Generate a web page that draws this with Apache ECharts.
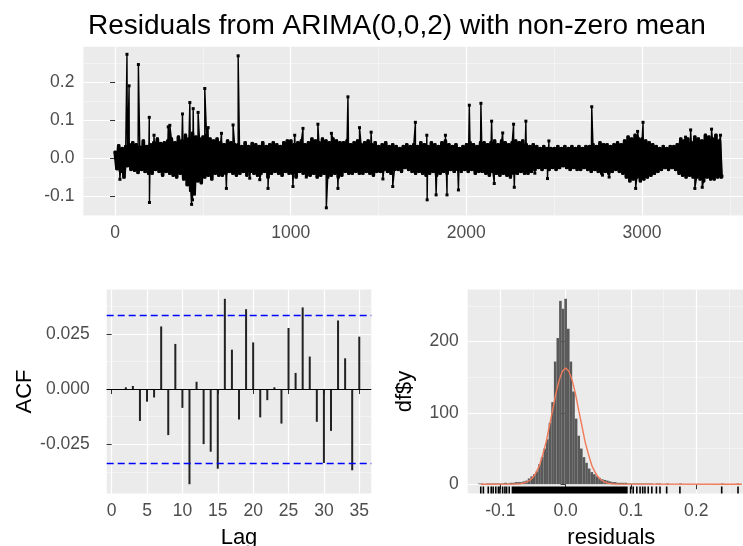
<!DOCTYPE html>
<html>
<head>
<meta charset="utf-8">
<title>checkresiduals</title>
<script src="https://cdn.jsdelivr.net/npm/echarts@6.0.0/dist/echarts.min.js"></script>
<style>
  html, body { margin: 0; padding: 0; background: #fff; }
  #main { width: 743px; height: 546px; }
</style>
</head>
<body>
<div id="main"></div>
<script>
// residual series: the dense band, sampled every 10 observations
var bandStart = 1;
var bandStep = 10;
var bandVals = [
  0.015, -0.028, 0.032, -0.035, 0.025, -0.05, 0.03, -0.02, 0.035, -0.03,
  0.04, -0.032, 0.035, -0.038, 0.028, -0.03, 0.045, -0.035, 0.03, -0.04,
  0.035, -0.04, 0.04, -0.03, 0.05, -0.035, 0.038, -0.045, 0.04, -0.035,
  0.045, -0.04, 0.05, -0.045, 0.04, -0.05, 0.055, -0.04, 0.045, -0.055,
  0.06, -0.07, 0.05, -0.085, 0.065, -0.09, 0.055, -0.06, 0.05, -0.065,
  0.055, -0.05, 0.06, -0.045, 0.05, -0.055, 0.045, -0.04, 0.05, -0.045,
  0.04, -0.045, 0.035, -0.04, 0.045, -0.035, 0.04, -0.04, 0.035, -0.045,
  0.035, -0.04, 0.03, -0.035, 0.04, -0.045, 0.03, -0.035, 0.038, -0.04,
  0.035, -0.045, 0.03, -0.04, 0.04, -0.035, 0.03, -0.05, 0.035, -0.04,
  0.04, -0.035, 0.035, -0.04, 0.03, -0.045, 0.04, -0.035, 0.045, -0.04,
  0.045, -0.04, 0.035, -0.05, 0.04, -0.035, 0.045, -0.04, 0.035, -0.045,
  0.04, -0.045, 0.05, -0.04, 0.045, -0.05, 0.04, -0.045, 0.05, -0.04,
  0.045, -0.05, 0.04, -0.045, 0.05, -0.04, 0.045, -0.05, 0.04, -0.045,
  0.04, -0.035, 0.045, -0.04, 0.035, -0.04, 0.04, -0.035, 0.045, -0.04,
  0.035, -0.04, 0.04, -0.035, 0.045, -0.04, 0.035, -0.045, 0.04, -0.035,
  0.03, -0.035, 0.035, -0.03, 0.04, -0.035, 0.03, -0.04, 0.035, -0.03,
  0.03, -0.03, 0.025, -0.035, 0.03, -0.025, 0.035, -0.03, 0.03, -0.035,
  0.035, -0.04, 0.03, -0.035, 0.04, -0.04, 0.035, -0.045, 0.03, -0.04,
  0.04, -0.035, 0.035, -0.045, 0.03, -0.04, 0.04, -0.035, 0.045, -0.04,
  0.035, -0.03, 0.03, -0.035, 0.035, -0.03, 0.025, -0.035, 0.03, -0.03,
  0.035, -0.035, 0.04, -0.03, 0.035, -0.04, 0.03, -0.035, 0.04, -0.035,
  0.04, -0.04, 0.035, -0.045, 0.04, -0.035, 0.045, -0.04, 0.035, -0.045,
  0.045, -0.04, 0.04, -0.045, 0.035, -0.05, 0.04, -0.04, 0.045, -0.04,
  0.04, -0.035, 0.045, -0.04, 0.035, -0.04, 0.03, -0.035, 0.035, -0.03,
  0.03, -0.025, 0.025, -0.03, 0.03, -0.025, 0.025, -0.03, 0.025, -0.025,
  0.025, -0.03, 0.03, -0.025, 0.025, -0.02, 0.03, -0.025, 0.025, -0.03,
  0.03, -0.025, 0.025, -0.03, 0.03, -0.03, 0.025, -0.025, 0.03, -0.03,
  0.03, -0.035, 0.035, -0.03, 0.03, -0.035, 0.04, -0.04, 0.035, -0.035,
  0.035, -0.04, 0.03, -0.035, 0.035, -0.03, 0.04, -0.035, 0.035, -0.04,
  0.045, -0.05, 0.055, -0.06, 0.05, -0.055, 0.06, -0.05, 0.05, -0.06,
  0.05, -0.055, 0.045, -0.05, 0.04, -0.045, 0.035, -0.04, 0.03, -0.035,
  0.025, -0.03, 0.03, -0.025, 0.025, -0.03, 0.03, -0.025, 0.03, -0.03,
  0.035, -0.04, 0.05, -0.045, 0.045, -0.05, 0.05, -0.045, 0.04, -0.05,
  0.055, -0.05, 0.05, -0.055, 0.045, -0.06, 0.06, -0.05, 0.055, -0.055,
  0.05, -0.055, 0.06, -0.05, 0.045, -0.05
];
// the single large residuals, [observation, value]
var spikes = [
  [28, -0.056], [68, 0.273], [80, 0.19], [133, 0.246], [195, 0.107], [196, -0.117],
  [222, 0.06], [303, 0.082], [312, 0.086], [384, 0.116], [426, 0.146], [436, -0.122],
  [441, -0.11], [445, 0.13], [452, -0.095], [473, 0.12], [511, 0.183], [530, 0.08],
  [606, 0.065], [634, -0.08], [672, 0.087], [701, 0.269], [767, -0.053], [824, -0.057],
  [871, -0.08], [1013, -0.075], [1023, 0.06], [1070, 0.078], [1089, -0.05], [1155, 0.089],
  [1203, -0.131], [1232, 0.065], [1269, -0.08], [1326, 0.161], [1392, 0.08], [1458, 0.068],
  [1525, -0.055], [1581, -0.075], [1710, 0.094], [1775, 0.06], [1777, -0.11], [1828, -0.097],
  [1881, 0.06], [1890, -0.097], [1955, -0.084], [2017, 0.139], [2083, 0.144], [2144, 0.097],
  [2159, -0.067], [2207, 0.066], [2269, 0.089], [2273, -0.077], [2339, 0.097], [2390, -0.04],
  [2462, -0.054], [2470, 0.045], [2714, 0.135], [2775, -0.045], [2813, -0.05], [2964, -0.08],
  [2975, 0.07], [3006, 0.094], [3248, 0.055], [3277, 0.074], [3301, -0.08], [3343, -0.077],
  [3396, 0.076], [3447, 0.06], [3455, -0.048]
];

// ACF of the residuals
var acfLags = [1, 2, 3, 4, 5, 6, 7, 8, 9, 10, 11, 12, 13, 14, 15, 16, 17, 18, 19, 20,
  21, 22, 23, 24, 25, 26, 27, 28, 29, 30, 31, 32, 33, 34, 35];
var acfVals = [-0.0003, 0.0008, 0.0014, -0.0144, -0.0057, -0.0038, 0.0283, -0.0208, 0.0204, -0.0085,
  -0.043, 0.0033, -0.0249, -0.0283, -0.036, 0.0408, 0.0178, -0.0137, 0.0361, 0.0211,
  -0.0128, -0.005, 0.0008, -0.0156, 0.0276, 0.0073, 0.0369, 0.0147, -0.0148, -0.0334,
  -0.0189, 0.031, 0.0139, -0.0367, 0.0237];
var acfLimit = 0.0334;

// histogram of residuals
var binStart = -0.134;
var binWidth = 0.004;
var binCounts = [
  1, 1, 0, 1, 1, 1, 1, 1, 1, 1,
  2, 1, 2, 2, 3, 3, 3, 4, 5, 8,
  11, 14, 18, 28, 38, 50, 63, 86, 115, 172,
  205, 257, 246, 260, 218, 172, 130, 92, 68, 50,
  38, 30, 22, 17, 14, 11, 9, 7, 6, 5,
  4, 3, 3, 2, 2, 2, 2, 1, 1, 1,
  1, 1, 1, 1, 1, 1, 1, 0, 1, 1,
  0, 0, 1, 0, 0, 0, 0, 1, 0, 0,
  0, 0, 0, 0, 0, 0, 0, 0, 0, 0,
  0, 0, 0, 1, 0, 0, 0, 0, 0, 1,
  0, 0
];
// fitted normal curve
var curveX = [-0.13, -0.08, -0.07, -0.065, -0.06, -0.055, -0.05, -0.045, -0.04, -0.035, -0.03,
  -0.025, -0.02, -0.015, -0.01, -0.005, 0, 0.005, 0.01, 0.015, 0.02, 0.025, 0.03, 0.035,
  0.04, 0.045, 0.05, 0.055, 0.06, 0.065, 0.07, 0.08, 0.27];
var curveY = [0, 0.1, 0.6, 1.5, 2.8, 5.6, 9.6, 17, 26.5, 41.7, 58.7,
  81.3, 103.6, 127, 145.6, 158.5, 163, 158.5, 145.6, 127, 103.6, 81.3, 58.7, 41.7,
  26.5, 17, 9.6, 5.6, 2.8, 1.5, 0.6, 0.1, 0];
// rug
var rugSparse = [-0.13, -0.126, -0.1185, -0.114, -0.111, -0.107, -0.103, -0.1006, -0.0965,
  -0.093, -0.0904, -0.0864, 0.0995, 0.1035, 0.109, 0.114, 0.118, 0.1215, 0.1265, 0.132,
  0.139, 0.1445, 0.1547, 0.175, 0.239, 0.264];
var rugDense = [-0.0827, 0.095];

// tick labels
var tsXTicks = [0, 1000, 2000, 3000];
var tsYTicks = [-0.1, 0, 0.1, 0.2];
var acfXTicks = [0, 5, 10, 15, 20, 25, 30, 35];
var acfYTicks = [-0.025, 0, 0.025];
var histXTicks = [-0.1, 0, 0.1, 0.2];
var histYTicks = [0, 100, 200];

var font = '"Liberation Sans", Arial, Helvetica, sans-serif';
var histYMin = -13;

function ggAxis(gridIndex, min, max, step, ticks, digits, minor, extra) {
    var ax = {
        type: 'value',
        gridIndex: gridIndex,
        min: min,
        max: max,
        minInterval: step,
        maxInterval: step,
        axisLine: { show: false },
        axisTick: { show: true, length: 5, customValues: ticks, lineStyle: { color: '#333333', width: 1 } },
        axisLabel: {
            customValues: ticks, color: '#4D4D4D', fontSize: 17.5, fontFamily: font, margin: 9,
            formatter: function (v) { return digits == null ? String(v) : Number(v).toFixed(digits); }
        },
        splitLine: { show: true, lineStyle: { color: '#FFFFFF', width: 1.2 } },
        minorTick: { show: false, splitNumber: 2 },
        minorSplitLine: { show: minor, lineStyle: { color: '#F7F7F7', width: 0.7 } }
    };
    for (var k in extra) ax[k] = extra[k];
    return ax;
}

var nameStyle = { color: '#000000', fontSize: 22, fontFamily: font };

var band = bandVals.map(function (v, i) { return [bandStart + i * bandStep, v]; });
var resid = band.concat(spikes).sort(function (a, b) { return a[0] - b[0]; });

var acfData = acfLags.map(function (l, i) { return [l, acfVals[i]]; });
var histData = binCounts.map(function (c, k) {
    return [binStart + k * binWidth, binStart + (k + 1) * binWidth, c];
});
var curveData = curveX.map(function (x, i) { return [x, curveY[i]]; });

var myChart = echarts.init(document.getElementById('main'), null, { renderer: 'canvas' });

var gridBase = { show: true, backgroundColor: '#EBEBEB', borderWidth: 0, containLabel: false, outerBoundsMode: 'none' };

var acfYAxis = ggAxis(1, -0.0472, 0.045, 0.025, acfYTicks, 3, true,
    { name: 'ACF', nameLocation: 'middle', nameGap: 71, nameTextStyle: nameStyle });
acfYAxis.axisLabel.margin = 17;

var option = {
    animation: false,
    backgroundColor: '#FFFFFF',
    title: {
        text: 'Residuals from ARIMA(0,0,2) with non-zero mean',
        left: 83,
        top: 7,
        textStyle: { fontSize: 28, fontWeight: 'normal', color: '#000000', fontFamily: font }
    },
    grid: [
        Object.assign({ left: 83.4, top: 46.7, width: 671, height: 168.7 }, gridBase),
        Object.assign({ left: 106.7, top: 289.5, width: 264.6, height: 204 }, gridBase),
        Object.assign({ left: 467.7, top: 289.5, width: 287.3, height: 204 }, gridBase)
    ],
    xAxis: [
        ggAxis(0, -180, 3640, 1000, tsXTicks, null, true, {}),
        ggAxis(1, -0.7, 36.7, 5, acfXTicks, null, false,
            { name: 'Lag', nameLocation: 'middle', nameGap: 33, nameTextStyle: nameStyle }),
        ggAxis(2, -0.15, 0.29, 0.1, histXTicks, 1, true,
            { name: 'residuals', nameLocation: 'middle', nameGap: 33, nameTextStyle: nameStyle })
    ],
    yAxis: [
        ggAxis(0, -0.151, 0.293, 0.1, tsYTicks, 1, true, {}),
        acfYAxis,
        ggAxis(2, histYMin, 273, 100, histYTicks, null, true,
            { name: 'df$y', nameLocation: 'middle', nameGap: 52, nameTextStyle: nameStyle })
    ],
    series: [
        {
            // dense band of the residuals, drawn thick so it reads as solid
            type: 'line',
            xAxisIndex: 0,
            yAxisIndex: 0,
            data: band,
            showSymbol: false,
            lineStyle: { color: '#000000', width: 3.6, join: 'round', cap: 'round' },
            silent: true
        },
        {
            // residual time series
            type: 'line',
            xAxisIndex: 0,
            yAxisIndex: 0,
            data: resid,
            symbol: 'rect',
            symbolSize: 3,
            showSymbol: true,
            itemStyle: { color: '#000000' },
            lineStyle: { color: '#000000', width: 1.4 },
            silent: true
        },
        {
            // acf spikes
            type: 'bar',
            xAxisIndex: 1,
            yAxisIndex: 1,
            data: acfData,
            barWidth: 2,
            itemStyle: { color: '#222222' },
            silent: true,
            markLine: {
                symbol: 'none',
                silent: true,
                precision: 5,
                label: { show: false },
                data: [
                    { yAxis: 0, lineStyle: { color: '#000000', type: 'solid', width: 1 } }
                ]
            }
        },
        {
            // confidence limits
            type: 'line',
            xAxisIndex: 1,
            yAxisIndex: 1,
            data: [],
            z: 5,
            markLine: {
                symbol: 'none',
                silent: true,
                precision: 5,
                label: { show: false },
                lineStyle: { color: '#0000FF', type: [7, 4], width: 1.3 },
                data: [{ yAxis: acfLimit }, { yAxis: -acfLimit }]
            }
        },
        {
            // histogram bars
            type: 'custom',
            xAxisIndex: 2,
            yAxisIndex: 2,
            data: histData,
            encode: { x: [0, 1], y: 2 },
            silent: true,
            renderItem: function (params, api) {
                var p0 = api.coord([api.value(0), api.value(2)]);
                var p1 = api.coord([api.value(1), 0]);
                return {
                    type: 'rect',
                    shape: { x: p0[0], y: p0[1], width: p1[0] - p0[0], height: p1[1] - p0[1] },
                    style: { fill: '#595959' }
                };
            }
        },
        {
            // rug, single ticks
            type: 'custom',
            xAxisIndex: 2,
            yAxisIndex: 2,
            data: rugSparse.map(function (v) { return [v, histYMin]; }),
            encode: { x: 0, y: 1 },
            silent: true,
            renderItem: function (params, api) {
                var p = api.coord([api.value(0), api.value(1)]);
                return {
                    type: 'line',
                    shape: { x1: p[0], y1: p[1], x2: p[0], y2: p[1] - 7 },
                    style: { stroke: '#000000', lineWidth: 1.6 }
                };
            }
        },
        {
            // rug, dense part
            type: 'custom',
            xAxisIndex: 2,
            yAxisIndex: 2,
            data: [[rugDense[0], rugDense[1], histYMin]],
            encode: { x: [0, 1], y: 2 },
            silent: true,
            renderItem: function (params, api) {
                var a = api.coord([api.value(0), api.value(2)]);
                var b = api.coord([api.value(1), api.value(2)]);
                return {
                    type: 'rect',
                    shape: { x: a[0], y: a[1] - 7, width: b[0] - a[0], height: 7 },
                    style: { fill: '#000000' }
                };
            }
        },
        {
            // normal curve
            type: 'line',
            xAxisIndex: 2,
            yAxisIndex: 2,
            data: curveData,
            showSymbol: false,
            smooth: false,
            lineStyle: { color: '#F07A5A', width: 1.4 },
            z: 4,
            silent: true
        }
    ]
};

myChart.setOption(option);
</script>
</body>
</html>
